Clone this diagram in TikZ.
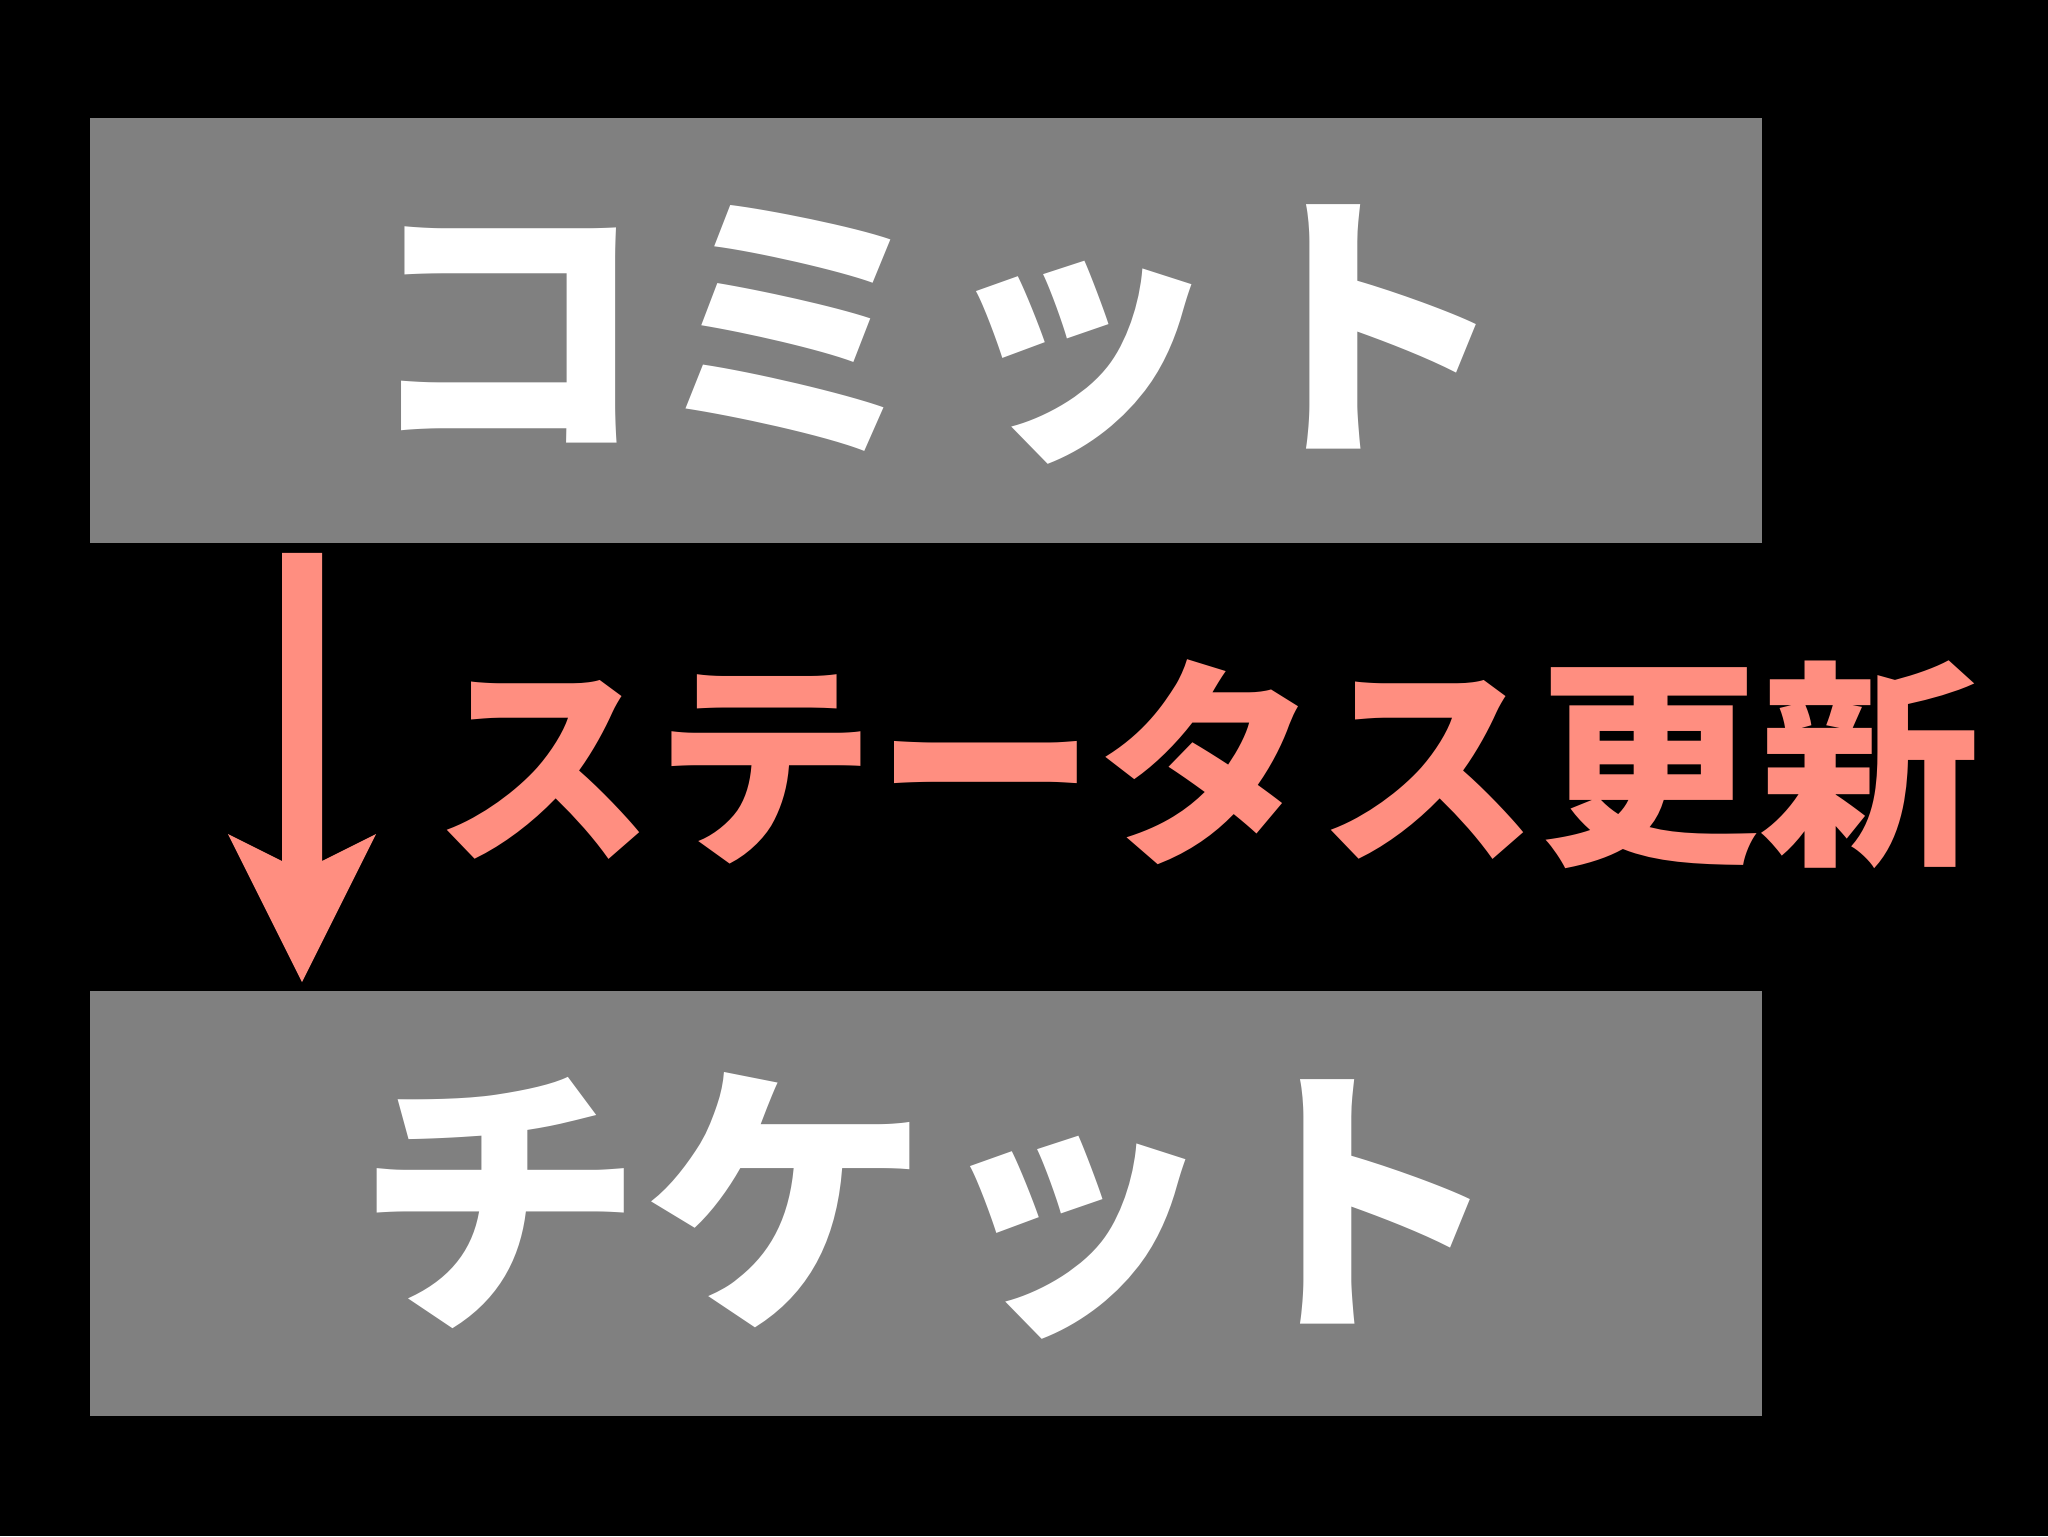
\documentclass[tikz,border=0pt]{standalone}
\usepackage{fontspec}
\newfontfamily\cjk{Noto Sans CJK JP}[BoldFont={Noto Sans CJK JP Black}]
\usetikzlibrary{calc}
\definecolor{boxgray}{RGB}{128,128,128}
\definecolor{salmon}{RGB}{255,142,128}
\tikzset{
  panel/.style={fill=boxgray, draw=none, minimum width=836pt, minimum height=212.5pt, inner sep=0pt, anchor=north west},
  bigtext/.style={text=white, font=\cjk\bfseries\fontsize{143.5pt}{143.5pt}\selectfont, inner sep=0pt, anchor=base},
  labeltext/.style={text=salmon, font=\cjk\bfseries\fontsize{110.5pt}{110.5pt}\selectfont, inner sep=0pt, anchor=base},
}
\begin{document}
\begin{tikzpicture}[x=0.5pt,y=-0.5pt]
\fill[black] (0,0) rectangle (2048,1536);
\useasboundingbox (0,0) rectangle (2048,1536);
\node[panel] (top) at (90,118) {};
\node[panel] (bot) at (90,991) {};
\node[bigtext] (ttop) at (936,434) {コミット};
\node[bigtext] (tbot) at (930,1309) {チケット};
\node[labeltext] (lab) at (1207,847) {ステータス更新};
\coordinate (s) at ($(top.south west)+(212,9)$);
\coordinate (t) at ($(bot.north west)+(212,-9)$);
\fill[salmon] ($(s)+(-20,0)$) -- ($(s)+(20,0)$) -- ($(t)+(20,-121)$) -- ($(t)+(74,-148)$) -- (t) -- ($(t)+(-74,-148)$) -- ($(t)+(-20,-121)$) -- cycle;
\end{tikzpicture}
\end{document}
